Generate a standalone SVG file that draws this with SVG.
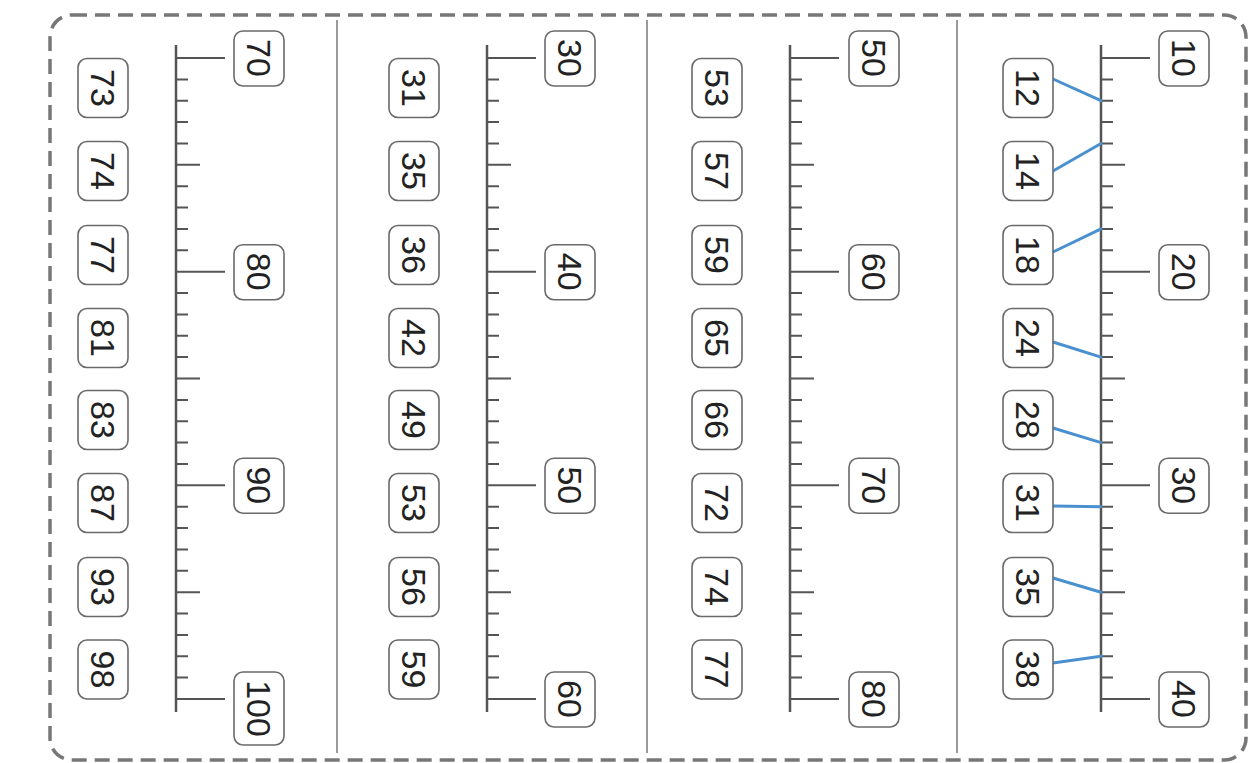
<svg xmlns="http://www.w3.org/2000/svg" xmlns:xlink="http://www.w3.org/1999/xlink" width="1248" height="763" viewBox="0 0 1248 763">
<style>
.frame{fill:none;stroke:#777;stroke-width:3.5;stroke-dasharray:15 8}
.sep{stroke:#9a9a9a;stroke-width:2}
.axis{stroke:#555;stroke-width:2.5;fill:none}
.tick{stroke:#555;stroke-width:2;fill:none}
.box{fill:#fff;stroke:#6a6a6a;stroke-width:1.6}
.num{font-family:"Liberation Sans",Arial,sans-serif;font-size:34px;fill:#222;text-anchor:middle}
.link{stroke:#4a90cf;stroke-width:3;stroke-linecap:round;fill:none}
</style>
<defs>
<g id="scale">
<line class="axis" x1="0" y1="45" x2="0" y2="712"/>
<path class="tick" d="M0 58h49M0 79.4h12M0 100.7h12M0 122.1h12M0 143.5h12M0 164.8h24M0 186.2h12M0 207.6h12M0 228.9h12M0 250.3h12M0 271.7h49M0 293h12M0 314.4h12M0 335.8h12M0 357.1h12M0 378.5h24M0 399.9h12M0 421.2h12M0 442.6h12M0 464h12M0 485.3h49M0 506.7h12M0 528.1h12M0 549.4h12M0 570.8h12M0 592.2h24M0 613.5h12M0 634.9h12M0 656.3h12M0 677.6h12M0 699h49"/>
</g>
</defs>
<rect width="1248" height="763" fill="#fff"/>
<rect class="frame" x="50" y="15" width="1196" height="745" rx="22"/>
<g id="separators">
<line class="sep" x1="337" y1="20" x2="337" y2="753"/>
<line class="sep" x1="647" y1="20" x2="647" y2="753"/>
<line class="sep" x1="957" y1="20" x2="957" y2="753"/>
</g>
<g id="rulers">
<use xlink:href="#scale" href="#scale" x="176"/>
<use xlink:href="#scale" href="#scale" x="487"/>
<use xlink:href="#scale" href="#scale" x="790"/>
<use xlink:href="#scale" href="#scale" x="1101"/>
</g>
<g id="connectors">
<line class="link" x1="1053" y1="79" x2="1101" y2="100.7"/>
<line class="link" x1="1053" y1="171" x2="1101" y2="143.5"/>
<line class="link" x1="1053" y1="252" x2="1101" y2="228.9"/>
<line class="link" x1="1053" y1="342" x2="1101" y2="357.1"/>
<line class="link" x1="1053" y1="428" x2="1101" y2="442.6"/>
<line class="link" x1="1053" y1="506" x2="1101" y2="506.7"/>
<line class="link" x1="1053" y1="578" x2="1101" y2="592.2"/>
<line class="link" x1="1053" y1="663" x2="1101" y2="656.3"/>
</g>
<!-- Panel 4 (70-100), ruler x=176 -->
<g id="p4-r70"><rect class="box" x="234" y="31" width="50" height="55" rx="9"/><text class="num" transform="translate(259 58) rotate(90)" dy="0.35em">70</text></g>
<g id="p4-r80"><rect class="box" x="234" y="244.7" width="50" height="55" rx="9"/><text class="num" transform="translate(259 271.7) rotate(90)" dy="0.35em">80</text></g>
<g id="p4-r90"><rect class="box" x="234" y="458.3" width="50" height="55" rx="9"/><text class="num" transform="translate(259 485.3) rotate(90)" dy="0.35em">90</text></g>
<g id="p4-r100"><rect class="box" x="234" y="672" width="50" height="73" rx="9"/><text class="num" transform="translate(259 708.5) rotate(90)" dy="0.35em">100</text></g>
<g id="p4-l73"><rect class="box" x="78" y="58.5" width="50" height="59" rx="9"/><text class="num" transform="translate(103 88) rotate(90)" dy="0.35em">73</text></g>
<g id="p4-l74"><rect class="box" x="78" y="141.5" width="50" height="59" rx="9"/><text class="num" transform="translate(103 171) rotate(90)" dy="0.35em">74</text></g>
<g id="p4-l77"><rect class="box" x="78" y="225.5" width="50" height="59" rx="9"/><text class="num" transform="translate(103 255) rotate(90)" dy="0.35em">77</text></g>
<g id="p4-l81"><rect class="box" x="78" y="308.5" width="50" height="59" rx="9"/><text class="num" transform="translate(103 338) rotate(90)" dy="0.35em">81</text></g>
<g id="p4-l83"><rect class="box" x="78" y="390.5" width="50" height="59" rx="9"/><text class="num" transform="translate(103 420) rotate(90)" dy="0.35em">83</text></g>
<g id="p4-l87"><rect class="box" x="78" y="473.5" width="50" height="59" rx="9"/><text class="num" transform="translate(103 503) rotate(90)" dy="0.35em">87</text></g>
<g id="p4-l93"><rect class="box" x="78" y="557.5" width="50" height="59" rx="9"/><text class="num" transform="translate(103 587) rotate(90)" dy="0.35em">93</text></g>
<g id="p4-l98"><rect class="box" x="78" y="640" width="50" height="59" rx="9"/><text class="num" transform="translate(103 669.5) rotate(90)" dy="0.35em">98</text></g>
<!-- Panel 3 (30-60), ruler x=487 -->
<g id="p3-r30"><rect class="box" x="545" y="31" width="50" height="55" rx="9"/><text class="num" transform="translate(570 58) rotate(90)" dy="0.35em">30</text></g>
<g id="p3-r40"><rect class="box" x="545" y="244.7" width="50" height="55" rx="9"/><text class="num" transform="translate(570 271.7) rotate(90)" dy="0.35em">40</text></g>
<g id="p3-r50"><rect class="box" x="545" y="458.3" width="50" height="55" rx="9"/><text class="num" transform="translate(570 485.3) rotate(90)" dy="0.35em">50</text></g>
<g id="p3-r60"><rect class="box" x="545" y="672" width="50" height="55" rx="9"/><text class="num" transform="translate(570 699) rotate(90)" dy="0.35em">60</text></g>
<g id="p3-l31"><rect class="box" x="389" y="58.5" width="50" height="59" rx="9"/><text class="num" transform="translate(414 88) rotate(90)" dy="0.35em">31</text></g>
<g id="p3-l35"><rect class="box" x="389" y="141.5" width="50" height="59" rx="9"/><text class="num" transform="translate(414 171) rotate(90)" dy="0.35em">35</text></g>
<g id="p3-l36"><rect class="box" x="389" y="225.5" width="50" height="59" rx="9"/><text class="num" transform="translate(414 255) rotate(90)" dy="0.35em">36</text></g>
<g id="p3-l42"><rect class="box" x="389" y="308.5" width="50" height="59" rx="9"/><text class="num" transform="translate(414 338) rotate(90)" dy="0.35em">42</text></g>
<g id="p3-l49"><rect class="box" x="389" y="390.5" width="50" height="59" rx="9"/><text class="num" transform="translate(414 420) rotate(90)" dy="0.35em">49</text></g>
<g id="p3-l53"><rect class="box" x="389" y="473.5" width="50" height="59" rx="9"/><text class="num" transform="translate(414 503) rotate(90)" dy="0.35em">53</text></g>
<g id="p3-l56"><rect class="box" x="389" y="557.5" width="50" height="59" rx="9"/><text class="num" transform="translate(414 587) rotate(90)" dy="0.35em">56</text></g>
<g id="p3-l59"><rect class="box" x="389" y="640" width="50" height="59" rx="9"/><text class="num" transform="translate(414 669.5) rotate(90)" dy="0.35em">59</text></g>
<!-- Panel 2 (50-80), ruler x=790 -->
<g id="p2-r50"><rect class="box" x="849" y="31" width="50" height="55" rx="9"/><text class="num" transform="translate(874 58) rotate(90)" dy="0.35em">50</text></g>
<g id="p2-r60"><rect class="box" x="849" y="244.7" width="50" height="55" rx="9"/><text class="num" transform="translate(874 271.7) rotate(90)" dy="0.35em">60</text></g>
<g id="p2-r70"><rect class="box" x="849" y="458.3" width="50" height="55" rx="9"/><text class="num" transform="translate(874 485.3) rotate(90)" dy="0.35em">70</text></g>
<g id="p2-r80"><rect class="box" x="849" y="672" width="50" height="55" rx="9"/><text class="num" transform="translate(874 699) rotate(90)" dy="0.35em">80</text></g>
<g id="p2-l53"><rect class="box" x="692" y="58.5" width="50" height="59" rx="9"/><text class="num" transform="translate(717 88) rotate(90)" dy="0.35em">53</text></g>
<g id="p2-l57"><rect class="box" x="692" y="141.5" width="50" height="59" rx="9"/><text class="num" transform="translate(717 171) rotate(90)" dy="0.35em">57</text></g>
<g id="p2-l59"><rect class="box" x="692" y="225.5" width="50" height="59" rx="9"/><text class="num" transform="translate(717 255) rotate(90)" dy="0.35em">59</text></g>
<g id="p2-l65"><rect class="box" x="692" y="308.5" width="50" height="59" rx="9"/><text class="num" transform="translate(717 338) rotate(90)" dy="0.35em">65</text></g>
<g id="p2-l66"><rect class="box" x="692" y="390.5" width="50" height="59" rx="9"/><text class="num" transform="translate(717 420) rotate(90)" dy="0.35em">66</text></g>
<g id="p2-l72"><rect class="box" x="692" y="473.5" width="50" height="59" rx="9"/><text class="num" transform="translate(717 503) rotate(90)" dy="0.35em">72</text></g>
<g id="p2-l74"><rect class="box" x="692" y="557.5" width="50" height="59" rx="9"/><text class="num" transform="translate(717 587) rotate(90)" dy="0.35em">74</text></g>
<g id="p2-l77"><rect class="box" x="692" y="640" width="50" height="59" rx="9"/><text class="num" transform="translate(717 669.5) rotate(90)" dy="0.35em">77</text></g>
<!-- Panel 1 (10-40), ruler x=1101 -->
<g id="p1-r10"><rect class="box" x="1159" y="31" width="50" height="55" rx="9"/><text class="num" transform="translate(1184 58) rotate(90)" dy="0.35em">10</text></g>
<g id="p1-r20"><rect class="box" x="1159" y="244.7" width="50" height="55" rx="9"/><text class="num" transform="translate(1184 271.7) rotate(90)" dy="0.35em">20</text></g>
<g id="p1-r30"><rect class="box" x="1159" y="458.3" width="50" height="55" rx="9"/><text class="num" transform="translate(1184 485.3) rotate(90)" dy="0.35em">30</text></g>
<g id="p1-r40"><rect class="box" x="1159" y="672" width="50" height="55" rx="9"/><text class="num" transform="translate(1184 699) rotate(90)" dy="0.35em">40</text></g>
<g id="p1-l12"><rect class="box" x="1003" y="58.5" width="50" height="59" rx="9"/><text class="num" transform="translate(1028 88) rotate(90)" dy="0.35em">12</text></g>
<g id="p1-l14"><rect class="box" x="1003" y="141.5" width="50" height="59" rx="9"/><text class="num" transform="translate(1028 171) rotate(90)" dy="0.35em">14</text></g>
<g id="p1-l18"><rect class="box" x="1003" y="225.5" width="50" height="59" rx="9"/><text class="num" transform="translate(1028 255) rotate(90)" dy="0.35em">18</text></g>
<g id="p1-l24"><rect class="box" x="1003" y="308.5" width="50" height="59" rx="9"/><text class="num" transform="translate(1028 338) rotate(90)" dy="0.35em">24</text></g>
<g id="p1-l28"><rect class="box" x="1003" y="390.5" width="50" height="59" rx="9"/><text class="num" transform="translate(1028 420) rotate(90)" dy="0.35em">28</text></g>
<g id="p1-l31"><rect class="box" x="1003" y="473.5" width="50" height="59" rx="9"/><text class="num" transform="translate(1028 503) rotate(90)" dy="0.35em">31</text></g>
<g id="p1-l35"><rect class="box" x="1003" y="557.5" width="50" height="59" rx="9"/><text class="num" transform="translate(1028 587) rotate(90)" dy="0.35em">35</text></g>
<g id="p1-l38"><rect class="box" x="1003" y="640" width="50" height="59" rx="9"/><text class="num" transform="translate(1028 669.5) rotate(90)" dy="0.35em">38</text></g>
</svg>
